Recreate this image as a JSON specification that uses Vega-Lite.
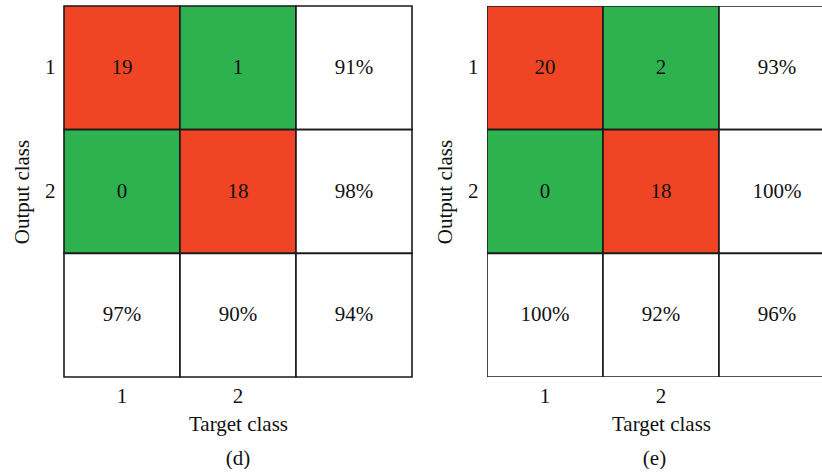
{
  "$schema": "https://vega.github.io/schema/vega-lite/v6.json",
  "padding": {"left": 11, "top": 5, "right": 0, "bottom": 0},
  "background": "white",
  "config": {
    "font": "Liberation Serif",
    "view": {"stroke": null},
    "axis": {
      "domain": false,
      "ticks": false,
      "grid": false,
      "labelFontSize": 21,
      "titleFontSize": 21,
      "titleFontWeight": "normal",
      "labelColor": "#111",
      "titleColor": "#111",
      "labelFont": "Liberation Serif",
      "titleFont": "Liberation Serif"
    },
    "axisX": {"labelPadding": 8, "titlePadding": 7, "labelAngle": 0},
    "axisY": {"labelPadding": 9, "titlePadding": 12},
    "title": {"fontSize": 21, "fontWeight": "normal", "font": "Liberation Serif", "color": "#111", "orient": "bottom", "offset": 14}
  },
  "datasets": {
    "d": [
      {"target": "1", "output": "1", "kind": "diag", "label": "19"},
      {"target": "2", "output": "1", "kind": "off", "label": "1"},
      {"target": "3", "output": "1", "kind": "pct", "label": "91%"},
      {"target": "1", "output": "2", "kind": "off", "label": "0"},
      {"target": "2", "output": "2", "kind": "diag", "label": "18"},
      {"target": "3", "output": "2", "kind": "pct", "label": "98%"},
      {"target": "1", "output": "3", "kind": "pct", "label": "97%"},
      {"target": "2", "output": "3", "kind": "pct", "label": "90%"},
      {"target": "3", "output": "3", "kind": "pct", "label": "94%"}
    ],
    "e": [
      {"target": "1", "output": "1", "kind": "diag", "label": "20"},
      {"target": "2", "output": "1", "kind": "off", "label": "2"},
      {"target": "3", "output": "1", "kind": "pct", "label": "93%"},
      {"target": "1", "output": "2", "kind": "off", "label": "0"},
      {"target": "2", "output": "2", "kind": "diag", "label": "18"},
      {"target": "3", "output": "2", "kind": "pct", "label": "100%"},
      {"target": "1", "output": "3", "kind": "pct", "label": "100%"},
      {"target": "2", "output": "3", "kind": "pct", "label": "92%"},
      {"target": "3", "output": "3", "kind": "pct", "label": "96%"}
    ]
  },
  "spacing": 21,
  "hconcat": [
    {
      "width": 348,
      "height": 371,
      "data": {"name": "d"},
      "title": {"text": "(d)"},
      "encoding": {
        "x": {"field": "target", "type": "ordinal", "scale": {"domain": ["1", "2", "3"], "paddingInner": 0, "paddingOuter": 0}, "axis": {"title": "Target class", "labelExpr": "datum.value == '3' ? '' : datum.value"}},
        "y": {"field": "output", "type": "ordinal", "scale": {"domain": ["1", "2", "3"], "paddingInner": 0, "paddingOuter": 0}, "axis": {"title": "Output class", "labelExpr": "datum.value == '3' ? '' : datum.value"}}
      },
      "layer": [
        {"mark": {"type": "rect", "stroke": "#1a1a1a", "strokeWidth": 1.6}, "encoding": {"fill": {"field": "kind", "type": "nominal", "scale": {"domain": ["diag", "off", "pct"], "range": ["#EF4524", "#2EB24F", "#FFFFFF"]}, "legend": null}}},
        {"mark": {"type": "text", "fontSize": 21, "color": "#111"}, "encoding": {"text": {"field": "label", "type": "nominal"}}}
      ]
    },
    {
      "width": 335,
      "height": 371,
      "data": {"name": "e"},
      "title": {"text": "(e)"},
      "encoding": {
        "x": {"field": "target", "type": "ordinal", "scale": {"domain": ["1", "2", "3"], "range": [0, 348], "paddingInner": 0, "paddingOuter": 0}, "axis": {"title": "Target class", "labelExpr": "datum.value == '3' ? '' : datum.value"}},
        "y": {"field": "output", "type": "ordinal", "scale": {"domain": ["1", "2", "3"], "paddingInner": 0, "paddingOuter": 0}, "axis": {"title": "Output class", "labelExpr": "datum.value == '3' ? '' : datum.value"}}
      },
      "layer": [
        {"mark": {"type": "rect", "stroke": "#1a1a1a", "strokeWidth": 1.6, "clip": true}, "encoding": {"fill": {"field": "kind", "type": "nominal", "scale": {"domain": ["diag", "off", "pct"], "range": ["#EF4524", "#2EB24F", "#FFFFFF"]}, "legend": null}}},
        {"mark": {"type": "text", "fontSize": 21, "color": "#111"}, "encoding": {"text": {"field": "label", "type": "nominal"}}}
      ]
    }
  ]
}
